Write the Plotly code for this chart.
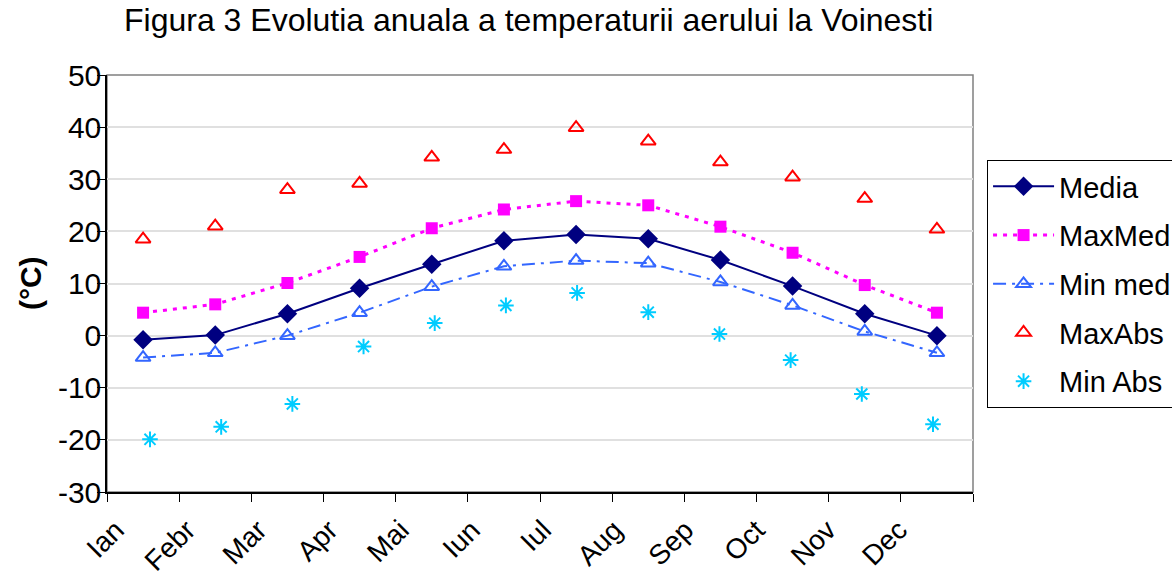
import plotly.graph_objects as go

months = ["Ian", "Febr", "Mar", "Apr", "Mai", "Iun", "Iul", "Aug", "Sep", "Oct", "Nov", "Dec"]
media = [-0.8, 0.1, 4.2, 9.1, 13.7, 18.2, 19.4, 18.6, 14.5, 9.5, 4.2, 0.0]
max_med = [4.4, 6.0, 10.1, 15.1, 20.6, 24.2, 25.8, 25.0, 20.9, 15.9, 9.7, 4.4]
min_med = [-4.2, -3.3, 0.0, 4.4, 9.4, 13.3, 14.4, 13.9, 10.3, 5.8, 0.8, -3.3]
max_abs = [18.5, 21.0, 28.0, 29.2, 34.2, 35.7, 39.9, 37.3, 33.3, 30.4, 26.3, 20.4]
min_abs = [-19.9, -17.5, -13.1, -2.1, 2.4, 5.8, 8.2, 4.5, 0.3, -4.7, -11.2, -17.0]
y_ticks = [50, 40, 30, 20, 10, 0, -10, -20, -30]

FONT = "Liberation Sans, Arial, sans-serif"
idx = list(range(len(months)))

fig = go.Figure()
fig.add_trace(go.Scatter(
    x=months, y=media, name="Media", mode="lines+markers", legendgroup="a",
    line=dict(color="#000080", width=2),
    marker=dict(symbol="diamond", size=15, color="#000080")))
fig.add_trace(go.Scatter(
    x=months, y=max_med, name="MaxMed", mode="lines+markers", legendgroup="b",
    line=dict(color="#FF00FF", width=3, dash="4px,6px"),
    marker=dict(symbol="square", size=12, color="#FF00FF")))
fig.add_trace(go.Scatter(
    x=months, y=min_med, name="Min med", mode="lines+markers", legendgroup="c",
    line=dict(color="#3366FF", width=2, dash="13px,6px,3px,6px"),
    marker=dict(symbol="triangle-up-open", size=13, color="#3366FF", line=dict(width=2))))
fig.add_trace(go.Scatter(
    x=months, y=max_abs, name="MaxAbs", mode="markers", legendgroup="d",
    marker=dict(symbol="triangle-up-open", size=13, color="#FF0000", line=dict(width=2))))
fig.add_trace(go.Scatter(
    x=idx, y=min_abs, name="Min Abs", mode="markers", xaxis="x2", legendgroup="e",
    marker=dict(symbol="asterisk-open", size=13, color="#00CCFF", line=dict(width=2, color="#00CCFF"))))

fig.update_layout(
    width=1172, height=575,
    margin=dict(l=107, r=199, t=75, b=83, autoexpand=False),
    paper_bgcolor="white", plot_bgcolor="white",
    font=dict(family=FONT, size=28, color="black"),
    showlegend=True,
    legend=dict(xref="container", yref="container", x=0.8422, xanchor="left",
                y=0.7217, yanchor="top",
                bordercolor="black", borderwidth=1, bgcolor="white",
                font=dict(family=FONT, size=29, color="black"),
                tracegroupgap=8, itemwidth=61),
    xaxis=dict(type="category", categoryorder="array", categoryarray=months,
               tickson="boundaries", ticks="outside", ticklen=8, tickcolor="black",
               showticklabels=False, automargin=False,
               showline=True, linecolor="black", linewidth=1.5,
               showgrid=False, mirror=False, zeroline=False,
               range=[-0.5, 11.5]),
    xaxis2=dict(overlaying="x", side="bottom", anchor="y", range=[-0.604, 11.562],
                tickvals=idx, ticktext=months, ticks="", showline=False, showgrid=False,
                zeroline=False, automargin=False,
                tickangle=-45, ticklabelshift=-34, ticklabelstandoff=15,
                tickfont=dict(family=FONT, size=28, color="black")),
    yaxis=dict(range=[-30, 50], tickvals=y_ticks, ticktext=[str(v) for v in y_ticks],
               ticks="outside", ticklen=8, ticklabelstandoff=-10, automargin=False,
               tickcolor="black", showline=True, linecolor="black", linewidth=1.5,
               showgrid=True, gridcolor="#E0E0E0", gridwidth=1.5, zeroline=False,
               tickfont=dict(family=FONT, size=30, color="black")),
    annotations=[
        dict(text="Figura 3 Evolutia anuala a temperaturii aerului la Voinesti",
             xref="paper", yref="paper", x=0.4864, y=1.132, xanchor="center", yanchor="middle",
             showarrow=False, font=dict(family=FONT, size=32, color="black")),
        dict(text="<b>(°C)</b>", textangle=-90,
             xref="paper", yref="paper", x=-0.0889, y=0.501, xanchor="center", yanchor="middle",
             showarrow=False, font=dict(family=FONT, size=30, color="black")),
    ],
)

# gray plot-area border on top and right
fig.add_shape(type="rect", xref="paper", yref="paper", x0=0, y0=0, x1=1, y1=1,
              line=dict(color="#808080", width=1.5), layer="below")

fig.write_html("out.html", config={"displayModeBar": False},
               post_script="document.body.style.margin='0';")
